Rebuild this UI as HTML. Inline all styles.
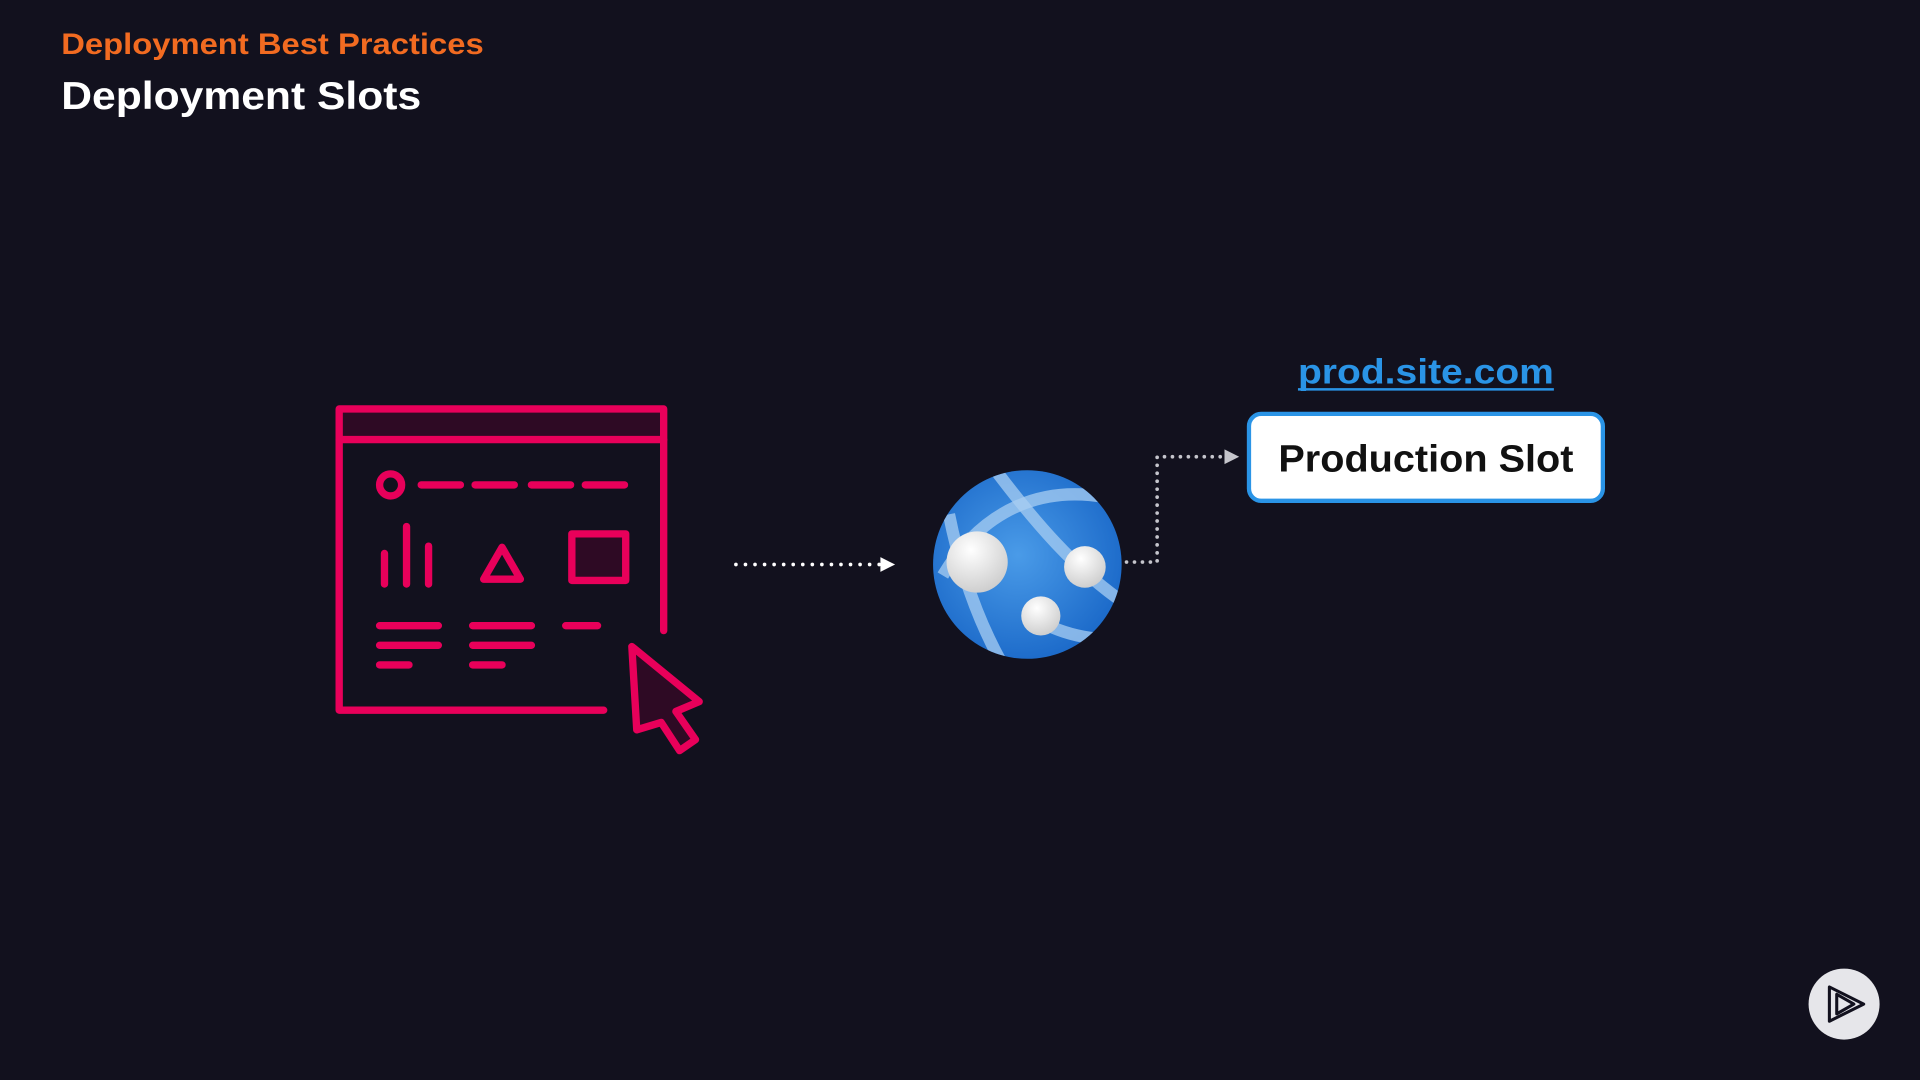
<!DOCTYPE html>
<html><head><meta charset="utf-8"><style>
html,body{margin:0;padding:0;background:#12111e;}
svg{display:block}
</style></head><body>
<svg width="1920" height="1080" viewBox="0 0 1568 882" xmlns="http://www.w3.org/2000/svg">
<defs>
<radialGradient id="g" cx="0.45" cy="0.45" r="0.6">
<stop offset="0" stop-color="#4a9be8"/><stop offset="1" stop-color="#1a68c8"/>
</radialGradient>
<radialGradient id="w" cx="0.4" cy="0.3" r="0.8">
<stop offset="0" stop-color="#ffffff"/><stop offset="1" stop-color="#c8c8c8"/>
</radialGradient>
<clipPath id="c"><circle cx="839" cy="461" r="77"/></clipPath>
</defs>
<rect width="1568" height="882" fill="#12111e"/>
<text x="50" y="44" font-family="Liberation Sans, sans-serif" font-weight="bold" font-size="24" fill="#f26b21" textLength="345" lengthAdjust="spacingAndGlyphs">Deployment Best Practices</text>
<text x="50" y="89" font-family="Liberation Sans, sans-serif" font-weight="bold" font-size="32" fill="#ffffff" textLength="294" lengthAdjust="spacingAndGlyphs">Deployment Slots</text>

<g fill="none" stroke="#e8005a" stroke-width="6" stroke-linecap="round" stroke-linejoin="round">
<rect x="280" y="336" width="262" height="22" fill="#2e0a24" stroke="none"/>
<path d="M542 515 V334 H277 V580 H493"/>
<line x1="277" y1="359" x2="542" y2="359"/>
<circle cx="319" cy="396" r="9"/>
<path d="M344 396H376M388 396H420M434 396H466M478 396H510"/>
<path d="M314 452V477M332 430V477M350 446V477"/>
<path d="M410 447 L395 473 H425 Z"/>
<rect x="467" y="436" width="44" height="38" fill="#2e0a24"/>
<path d="M310 511H358M386 511H434M462 511H488M310 527H358M386 527H434M310 543H334M386 543H410"/>
<path d="M516 528 L571 573 L552 581 L568 604 L555 613 L540 590 L520 596 Z" fill="#2e0a24"/>
</g>

<line x1="601" y1="461" x2="718" y2="461" stroke="#ffffff" stroke-width="3" stroke-linecap="round" stroke-dasharray="0 7.8"/>
<path d="M719 455 L731 461 L719 467 Z" fill="#fff"/>

<circle cx="839" cy="461" r="77" fill="url(#g)"/>
<g clip-path="url(#c)" fill="none" stroke="#a8cdf2" stroke-opacity="0.75" stroke-width="10">
<path d="M810 380 C840 420 880 470 930 500"/>
<path d="M770 470 C800 420 850 390 920 410"/>
<path d="M775 420 C785 470 800 510 820 545"/>
<path d="M845 505 C870 520 900 525 925 520"/>
</g>
<circle cx="798" cy="459" r="25" fill="url(#w)"/>
<circle cx="886" cy="463" r="17" fill="url(#w)"/>
<circle cx="850" cy="503" r="16" fill="url(#w)"/>

<path d="M920 459 H945 V373 H1000" fill="none" stroke="#c5c5cc" stroke-width="3" stroke-linecap="round" stroke-dasharray="0 6.5"/>
<path d="M1000 367 L1012 373 L1000 379 Z" fill="#c5c5cc"/>

<text x="1060" y="313" font-family="Liberation Sans, sans-serif" font-weight="bold" font-size="29" fill="#2a94e6" textLength="209" lengthAdjust="spacingAndGlyphs">prod.site.com</text>
<line x1="1060" y1="318" x2="1269" y2="318" stroke="#2a94e6" stroke-width="2"/>

<rect x="1020" y="338" width="289" height="71" rx="10" fill="#ffffff" stroke="#2a94e6" stroke-width="3.5"/>
<text x="1044" y="385" font-family="Liberation Sans, sans-serif" font-weight="bold" font-size="31" fill="#111" textLength="241" lengthAdjust="spacingAndGlyphs">Production Slot</text>

<circle cx="1506" cy="820" r="29" fill="#e6e6ea"/>
<path d="M1494 806 V834 L1522 820 Z M1500 812 V828 L1514 820 Z" fill="none" stroke="#12111e" stroke-width="2.5" stroke-linejoin="round"/>
</svg>
</body></html>
